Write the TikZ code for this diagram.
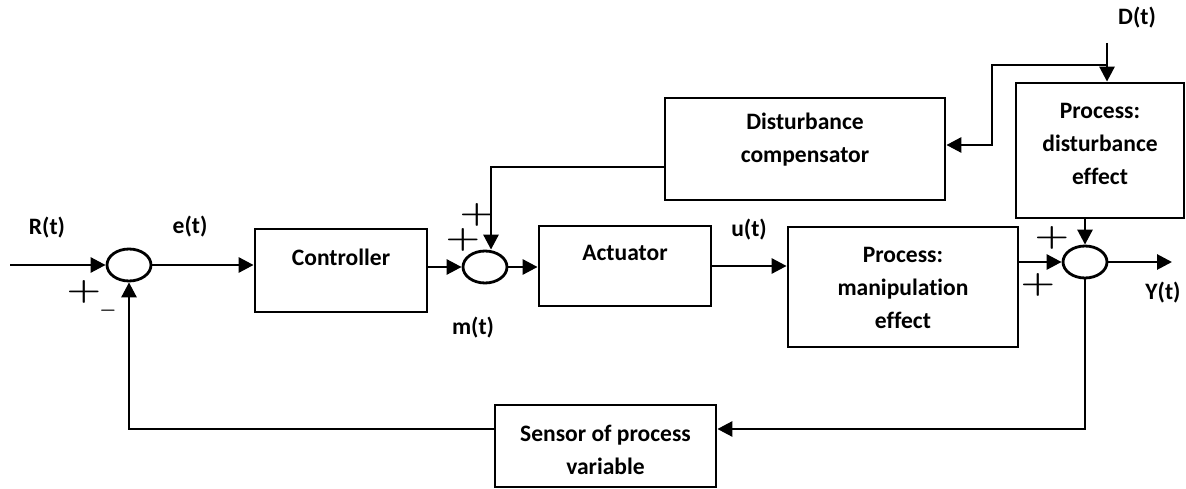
\documentclass[tikz,border=0pt]{standalone}
\usepackage{fontspec}
\setmainfont{Carlito}[Ligatures=NoCommon]
\usepackage{tikz}
\usetikzlibrary{arrows.meta,positioning,shapes.geometric,calc}

\begin{document}
\begin{tikzpicture}[x=0.02cm, y=-0.02cm,
    blk/.style={draw, line width=1.6pt, rectangle, inner sep=0pt},
    sumnode/.style={draw, line width=1.6pt, ellipse, minimum width=0.88cm, minimum height=0.64cm, inner sep=0pt},
    sig/.style={-{Triangle[length=0.3cm, width=0.3cm]}, line width=1.6pt},
    txt/.style={font=\fontsize{13.4}{18.8}\selectfont\bfseries, align=center, inner sep=0pt},
    sgn/.style={font=\fontsize{16}{16}\selectfont\boldmath, inner sep=0pt}]
    \useasboundingbox (0,0) rectangle (1186,489);

    % blocks
    \node[blk, minimum width=3.44cm, minimum height=1.66cm] (ctrl) at (341,270.5) {};
    \node[blk, minimum width=3.44cm, minimum height=1.6cm] (act) at (625,266) {};
    \node[blk, minimum width=4.6cm, minimum height=2.4cm] (pm) at (903,287) {};
    \node[blk, minimum width=5.6cm, minimum height=2.04cm] (comp) at (805,149) {};
    \node[blk, minimum width=3.36cm, minimum height=2.7cm] (de) at (1100,150.5) {};
    \node[blk, minimum width=4.42cm, minimum height=1.64cm] (sens) at (605.5,446) {};

    \node[txt] (ctrltxt) at (341,257) {Controller};
    \node[txt] (acttxt) at (625,253) {Actuator};
    \node[txt] (pmtxt) at (903,288) {Process:\\manipulation\\effect};
    \node[txt] (comptxt) at (805,140) {Disturbance\\compensator};
    \node[txt] (detxt) at (1100,143.5) {Process:\\disturbance\\effect};
    \node[txt] (senstxt) at (605.5,450) {Sensor of process\\variable};

    % summing points
    \node[sumnode] (sum1) at (129,265) {};
    \node[sumnode] (sum2) at (485,267) {};
    \node[sumnode] (sum3) at (1085,262) {};

    \node[sgn] (s1p) at (84,292) {\scalebox{1.3}[1]{$+$}};
    \node[sgn, font=\fontsize{11}{11}\selectfont\boldmath] (s1m) at (108,311) {$-$};
    \node[sgn] (s2a) at (477,215) {\scalebox{1.3}[1]{$+$}};
    \node[sgn] (s2b) at (463,240) {\scalebox{1.3}[1]{$+$}};
    \node[sgn] (s3a) at (1052,238) {\scalebox{1.3}[1]{$+$}};
    \node[sgn] (s3b) at (1038,285) {\scalebox{1.3}[1]{$+$}};

    % signals
    \node[txt] (rlab) at (47,228) {R(t)};
    \node[txt] (elab) at (190,227) {e(t)};
    \node[txt] (mlab) at (473,328) {m(t)};
    \node[txt] (ulab) at (749,230) {u(t)};
    \node[txt] (dlab) at (1137,18) {D(t)};
    \node[txt] (ylab) at (1163,293) {Y(t)};

    \coordinate (rin) at (10,265);
    \coordinate (yout) at (1172,262);
    \coordinate (dtop) at (1107,43);
    \coordinate (dbr) at (1107,65);
    \coordinate (dturn) at (992,145);
    \coordinate (cturn) at (491,167);
    \coordinate (fbr) at (1085,429);
    \coordinate (fbl) at (129,429);

    \draw[sig] (rin) -- (sum1.west);
    \draw[sig] (sum1.east) -- (ctrl.west |- sum1.east);
    \draw[sig] (ctrl.east |- sum2.west) -- (sum2.west);
    \draw[sig] (sum2.east) -- (act.west |- sum2.east);
    \draw[sig] (act.east) -- (pm.west |- act.east);
    \draw[sig] (pm.east |- sum3.west) -- (sum3.west);
    \draw[sig] (sum3.east) -- (yout);
    \draw[sig] (de.south -| sum3.north) -- (sum3.north);
    \draw[sig] (dtop) -- (dtop |- de.north);
    \draw[sig] (dbr) -| (dturn) -- (comp.east |- dturn);
    \draw[sig] (comp.west |- cturn) -- (cturn) -- (cturn |- sum2.north);

    % feedback
    \draw[sig] (sum3.south) -- (fbr) -- (sens.east |- fbr);
    \draw[sig] (sens.west |- fbl) -- (fbl) -- (sum1.south);
\end{tikzpicture}
\end{document}
